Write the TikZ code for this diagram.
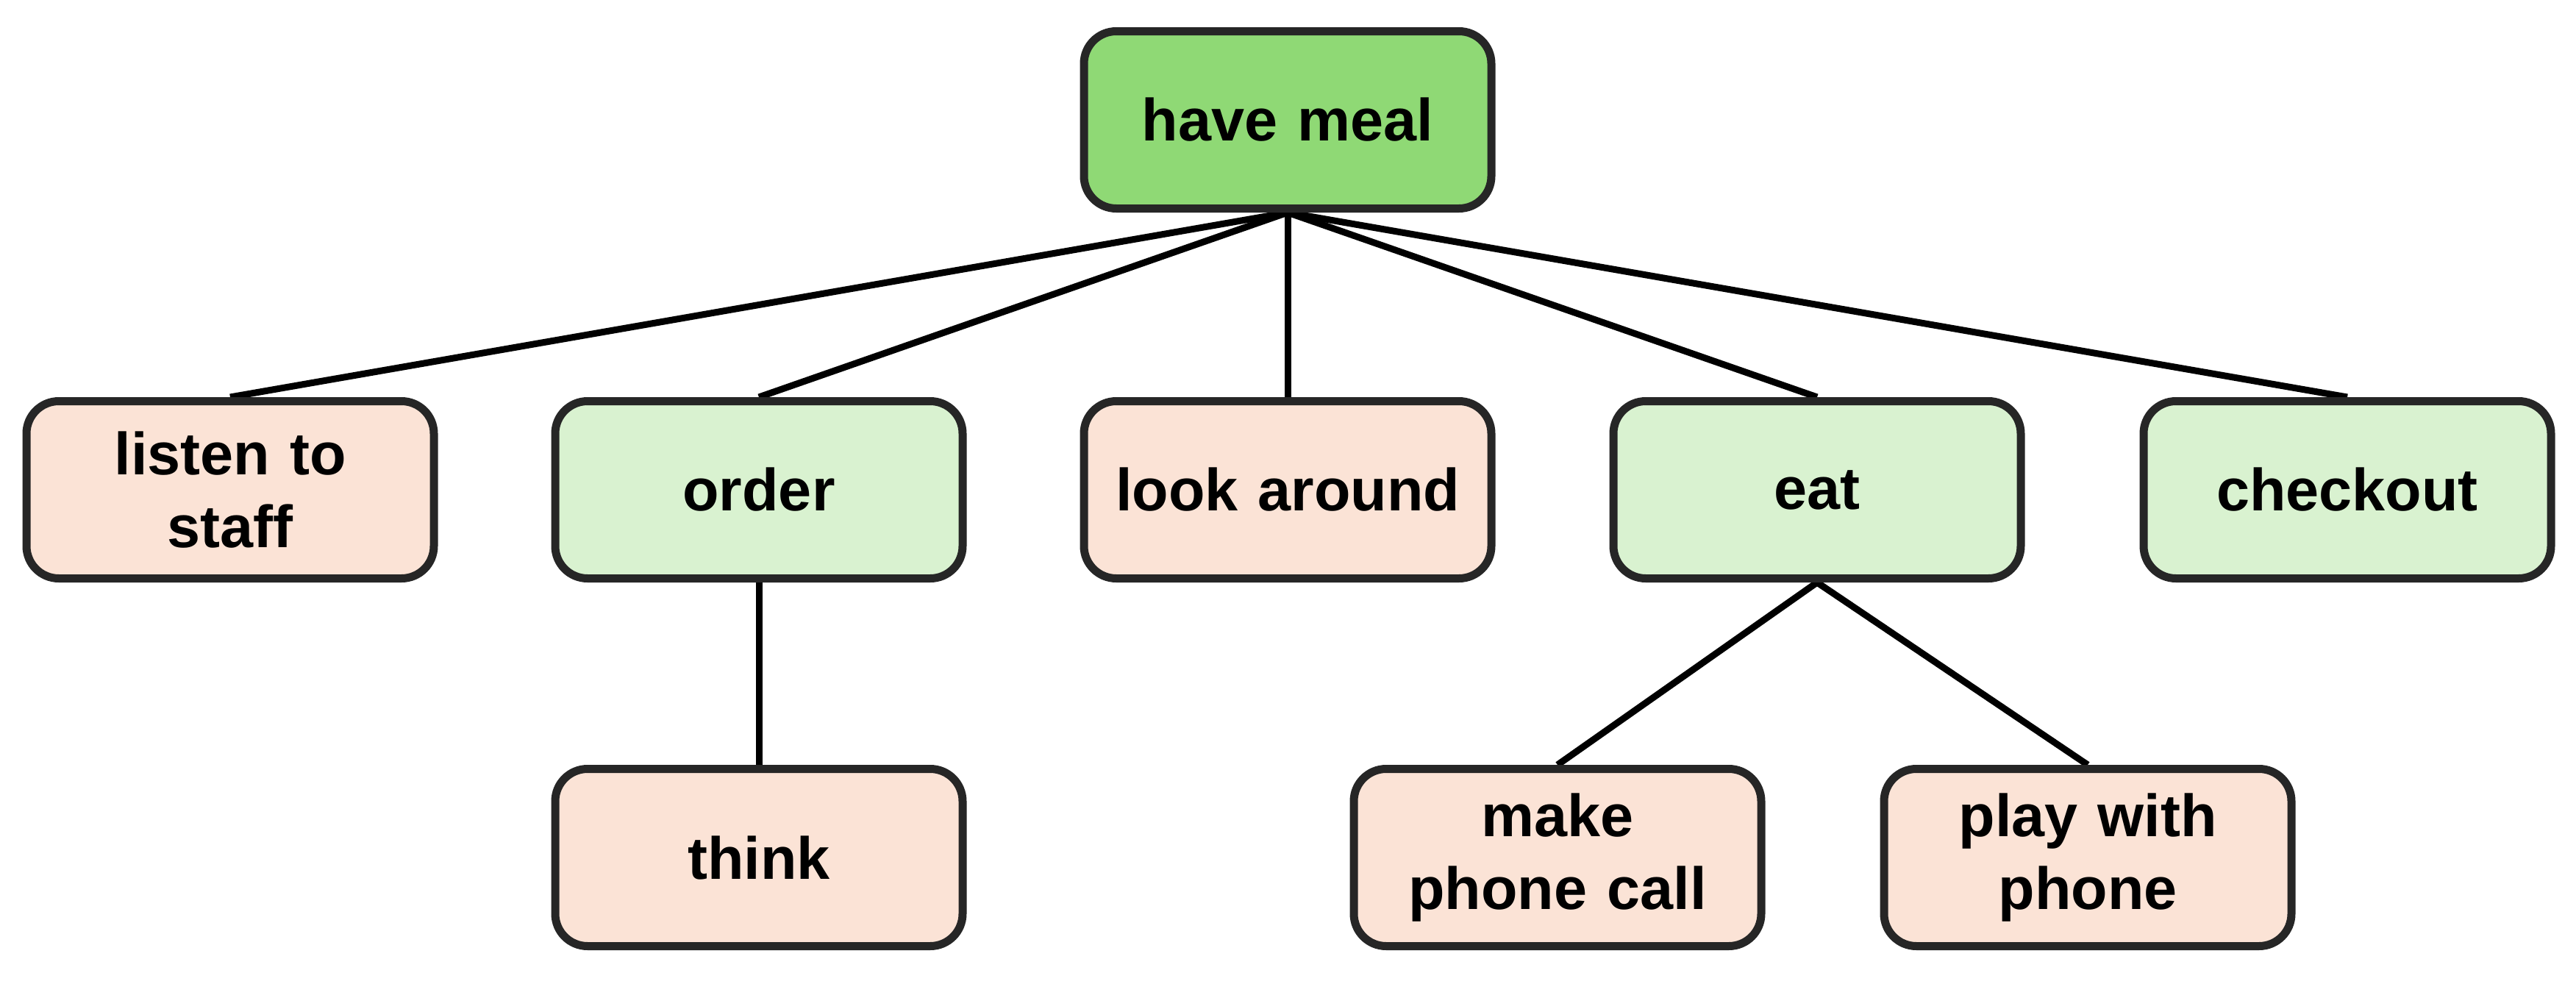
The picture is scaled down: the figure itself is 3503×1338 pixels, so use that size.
\documentclass[tikz,border=0pt]{standalone}
\usepackage{fontspec}
\setmainfont{Liberation Sans}
\usetikzlibrary{backgrounds}
\definecolor{topgreen}{HTML}{8FD975}
\definecolor{lightgreen}{HTML}{D9F2D0}
\definecolor{peach}{HTML}{FBE3D6}
\definecolor{bordergray}{HTML}{262626}
\tikzset{
  box/.style={draw=bordergray, line width=2.75pt, rounded corners=11pt,
    minimum width=138.5pt, minimum height=60.25pt, inner sep=0pt,
    align=center, text width=130pt,
    font=\fontsize{20.25pt}{24.75pt}\selectfont\bfseries},
  rootbox/.style={box, fill=topgreen},
  greenbox/.style={box, fill=lightgreen},
  peachbox/.style={box, fill=peach},
  link/.style={line width=2.25pt, draw=black}
}
\begin{document}
\begin{tikzpicture}[x=0.25pt, y=-0.25pt]
\useasboundingbox (0,0) rectangle (3503,1338);
\node[rootbox] (meal) at (1751,163) {have meal};
\node[peachbox] (listen) at (313,666) {listen to\\staff};
\node[greenbox] (order) at (1032,666) {order};
\node[peachbox] (look) at (1751,666) {look around};
\node[greenbox] (eat) at (2471,666) {eat};
\node[greenbox] (checkout) at (3192,666) {checkout};
\node[peachbox] (think) at (1032,1166) {think};
\node[peachbox] (call) at (2118,1166) {make\\phone call};
\node[peachbox] (play) at (2839,1166) {play with\\phone};
\begin{scope}[on background layer]
\draw[link] (meal.south) -- (listen.north);
\draw[link] (meal.south) -- (order.north);
\draw[link] (meal.south) -- (look.north);
\draw[link] (meal.south) -- (eat.north);
\draw[link] (meal.south) -- (checkout.north);
\draw[link] (order.south) -- (think.north);
\draw[link] (eat.south) -- (call.north);
\draw[link] (eat.south) -- (play.north);
\end{scope}
\end{tikzpicture}
\end{document}
